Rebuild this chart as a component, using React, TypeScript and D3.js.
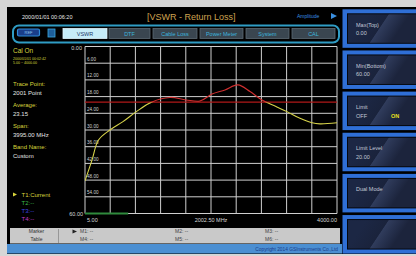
import React from "react";
import * as d3 from "d3";

// ---- data ----
const freqs = [5, 116, 219, 401, 607, 814, 1067, 1352, 1606, 1828, 2018, 2224, 2430, 2621, 2811, 3017, 3207, 3413, 3604, 3730, 4000];
const returnLoss = [48.3, 40.8, 33.6, 30.0, 27.0, 23.5, 19.9, 18.3, 19.2, 19.6, 17.1, 15.6, 13.8, 16.2, 19.2, 21.4, 23.4, 25.8, 27.4, 27.8, 27.4];
const yTicks = [6, 12, 18, 24, 30, 36, 42, 48, 54];
const xGridTicks = [0, 1, 2, 3, 4, 5, 6, 7, 8, 9, 10];
const limitLevel = [20];
const progressRange = [5, 690];
const tabs = ["VSWR", "DTF", "Cable Loss", "Power Meter", "System", "CAL"];
const leftInfo = [
  ["Trace Point:", "2001 Point"],
  ["Average:", "23.15"],
  ["Span:", "3995.00 MHz"],
  ["Band Name:", "Custom"],
];
const traces = ["T1:Current", "T2:--", "T3:--", "T4:--"];
const traceColors = ["#d8d43c", "#3cb84a", "#4048e0", "#c03cc8"];
const softkeys = [
  ["Max(Top)", "0.00"],
  ["Min(Bottom)", "60.00"],
  ["Limit", "OFF"],
  ["Limit Level", "20.00"],
  ["Dual Mode", ""],
  ["", ""],
];
const markers = [
  ["M1: --", "M4: --"],
  ["M2: --", "M5: --"],
  ["M3: --", "M6: --"],
];

const FONT = "'Liberation Sans', Arial, sans-serif";

export default function App() {
  const W = 416, H = 256;
  const x0 = 85, x1 = 337, y0 = 46.5, y1 = 213.5;
  const x = d3.scaleLinear().domain([5, 4000]).range([x0, x1]);
  const y = d3.scaleLinear().domain([0, 60]).range([y0, y1]);
  const gx = d3.scaleLinear().domain([0, 10]).range([x0, x1]);
  const pts = freqs.map((f, i) => [f, returnLoss[i]] as [number, number]);
  const line = d3.line<[number, number]>().x(d => x(d[0])).y(d => y(d[1])).curve(d3.curveCatmullRom.alpha(0.5));
  const path = line(pts) || "";
  const yl = y(limitLevel[0]);

  const tabX = [63, 109, 153, 200, 246, 292];
  const tabW = [44, 41, 44, 43, 43, 43];

  return (
    <svg width={W} height={H} style={{ position: "absolute", left: 0, top: 0, display: "block" }} fontFamily={FONT}>
      <defs>
        <clipPath id="below"><rect x={x0} y={yl} width={x1 - x0} height={y1 - yl + 5} /></clipPath>
        <clipPath id="above"><rect x={x0} y={y0 - 5} width={x1 - x0} height={yl - y0 + 5} /></clipPath>
        <linearGradient id="key" gradientUnits="userSpaceOnUse" x1="370" y1="0" x2="400" y2="20">
          <stop offset="0" stopColor="#1c2744" />
          <stop offset="0.5" stopColor="#1a233c" />
          <stop offset="0.52" stopColor="#303c5c" />
          <stop offset="0.8" stopColor="#242e4a" />
          <stop offset="1" stopColor="#1c243c" />
        </linearGradient>
      </defs>
      <rect x={0} y={0} width={W} height={H} fill="#d6d6d6" />
      <rect x={7} y={7} width={W - 7} height={247} fill="#000" />

      {/* header */}
      <text x={22} y={18.5} fontSize={5.5} fill="#e8e8e8">2000/01/01 00:06:20</text>
      <text x={147} y={20} fontSize={9} fill="#cfa350">[VSWR - Return Loss]</text>
      <text x={297} y={17.5} fontSize={5} fill="#3a8fe0">Amplitude</text>
      <path d="M331,13 L337,16 L331,19 Z" fill="#3a8fe0" />

      {/* tab bar */}
      <rect x={13} y={25.5} width={326} height={17} rx={6} fill="none" stroke="#2f9cc4" strokeWidth={2} />
      <rect x={17.5} y={29} width={22} height={7} rx={1.5} fill="#1a3e8a" stroke="#2f8ad8" strokeWidth={1.2} />
      <text x={28.5} y={34.2} fontSize={4} fill="#8fc8f0" textAnchor="middle">REF</text>
      <rect x={48} y={29} width={7} height={8} fill="#1e5f9a" stroke="#3aa8e0" strokeWidth={0.8} />
      {tabs.map((t, i) => (
        <g key={t}>
          <rect x={tabX[i]} y={28.5} width={tabW[i]} height={10} fill={i === 0 ? "#c6ecf8" : "#3a4650"} stroke={i === 0 ? "#e0f6ff" : "#5c6a74"} strokeWidth={0.8} />
          <text x={tabX[i] + tabW[i] / 2} y={35.5} fontSize={5.5} textAnchor="middle" fill={i === 0 ? "#1c3a6a" : "#3ab4dc"}>{t}</text>
        </g>
      ))}

      {/* left info */}
      <text x={13} y={53} fontSize={6.5} fill="#d8d43c">Cal On</text>
      <text x={13} y={59.5} fontSize={3.6} fill="#d8d43c">2000/01/01 00:02:42</text>
      <text x={13} y={64} fontSize={3.6} fill="#d8d43c">5.00 ~ 4000.00</text>
      {leftInfo.map((d, i) => (
        <g key={d[0]}>
          <text x={13} y={85.5 + i * 21.2} fontSize={6} fill="#d8d43c">{d[0]}</text>
          <text x={13} y={94.5 + i * 21.2} fontSize={6} fill="#e4e4e4">{d[1]}</text>
        </g>
      ))}
      <path d="M13,192.5 L17,194.5 L13,196.5 Z" fill="#d8d43c" />
      {traces.map((t, i) => (
        <text key={t} x={21.5} y={196.5 + i * 8.1} fontSize={6} fill={traceColors[i]}>{t}</text>
      ))}

      {/* plot grid */}
      {d3.range(0, 11).map(i => (
        <line key={"h" + i} x1={x0} x2={x1} y1={y(i * 6)} y2={y(i * 6)} stroke="#cfcfcf" strokeWidth={1} />
      ))}
      {xGridTicks.map(i => (
        <line key={"v" + i} x1={gx(i)} x2={gx(i)} y1={y0} y2={y1} stroke="#cfcfcf" strokeWidth={1} />
      ))}
      {yTicks.map(t => (
        <text key={"yt" + t} x={87} y={y(t) - 2.5} fontSize={4.6} fill="#d0d0d0">{t.toFixed(2)}</text>
      ))}
      <text x={82} y={50} fontSize={5.5} fill="#d8d8d8" textAnchor="end">0.00</text>
      <text x={83} y={216} fontSize={5.5} fill="#d8d8d8" textAnchor="end">60.00</text>
      <text x={87} y={222} fontSize={5.5} fill="#d8d8d8">5.00</text>
      <text x={x(2002.5)} y={222} fontSize={5.5} fill="#d8d8d8" textAnchor="middle">2002.50 MHz</text>
      <text x={x1} y={222} fontSize={5.5} fill="#d8d8d8" textAnchor="end">4000.00</text>

      {/* limit line */}
      <line x1={x0} x2={x1} y1={yl} y2={yl} stroke="#b01818" strokeWidth={1.3} />
      {/* trace */}
      <path d={path} fill="none" stroke="#d6d24a" strokeWidth={1.1} clipPath="url(#below)" />
      <path d={path} fill="none" stroke="#d03030" strokeWidth={1.1} clipPath="url(#above)" />
      {/* progress bar */}
      <line x1={x(progressRange[0])} x2={x(progressRange[1])} y1={y1} y2={y1} stroke="#2f8a3c" strokeWidth={2.2} />

      {/* marker table */}
      <rect x={10} y={228} width={330} height={15.5} fill="#c9c9c9" />
      <line x1={58.5} x2={58.5} y1={229} y2={243} stroke="#8a8a8a" strokeWidth={0.8} />
      <text x={36.5} y={233} fontSize={5} fill="#333" textAnchor="middle">Marker</text>
      <text x={36.5} y={240.5} fontSize={5} fill="#333" textAnchor="middle">Table</text>
      <path d="M72.5,229.5 L77,231.5 L72.5,233.5 Z" fill="#222" />
      {markers.map((m, i) => (
        <g key={i}>
          <text x={[80, 175, 265][i]} y={233} fontSize={5} fill="#444">{m[0]}</text>
          <text x={[80, 175, 265][i]} y={240.5} fontSize={5} fill="#444">{m[1]}</text>
        </g>
      ))}
      <rect x={7} y={244} width={335} height={9.5} fill="#4b8fd2" />
      <text x={338} y={250.5} fontSize={4.8} fill="#1a3c8a" textAnchor="end">Copyright 2014 GSInstruments Co.,Ltd</text>

      {/* softkeys */}
      {softkeys.map((k, i) => {
        const ty = 9.3 + i * 41.15;
        return (
          <g key={i}>
            <rect x={342.5} y={ty} width={80} height={38.5} fill="#2f6fd6" />
            <rect x={347} y={ty + 4} width={75} height={30.5} fill="#05070c" />
            <g transform={`translate(0,${ty})`}>
              <rect x={348} y={5} width={74} height={28.5} fill="url(#key)" />
            </g>
            <text x={356} y={ty + 17.5} fontSize={5.5} fill="#c4cad8">{k[0]}</text>
            {k[1] && <text x={356} y={ty + 26} fontSize={5.5} fill="#c4cad8">{k[1]}</text>}
            {i === 2 && <text x={391} y={ty + 26} fontSize={5.5} fill="#e6e020" fontWeight="bold">ON</text>}
          </g>
        );
      })}
    </svg>
  );
}
